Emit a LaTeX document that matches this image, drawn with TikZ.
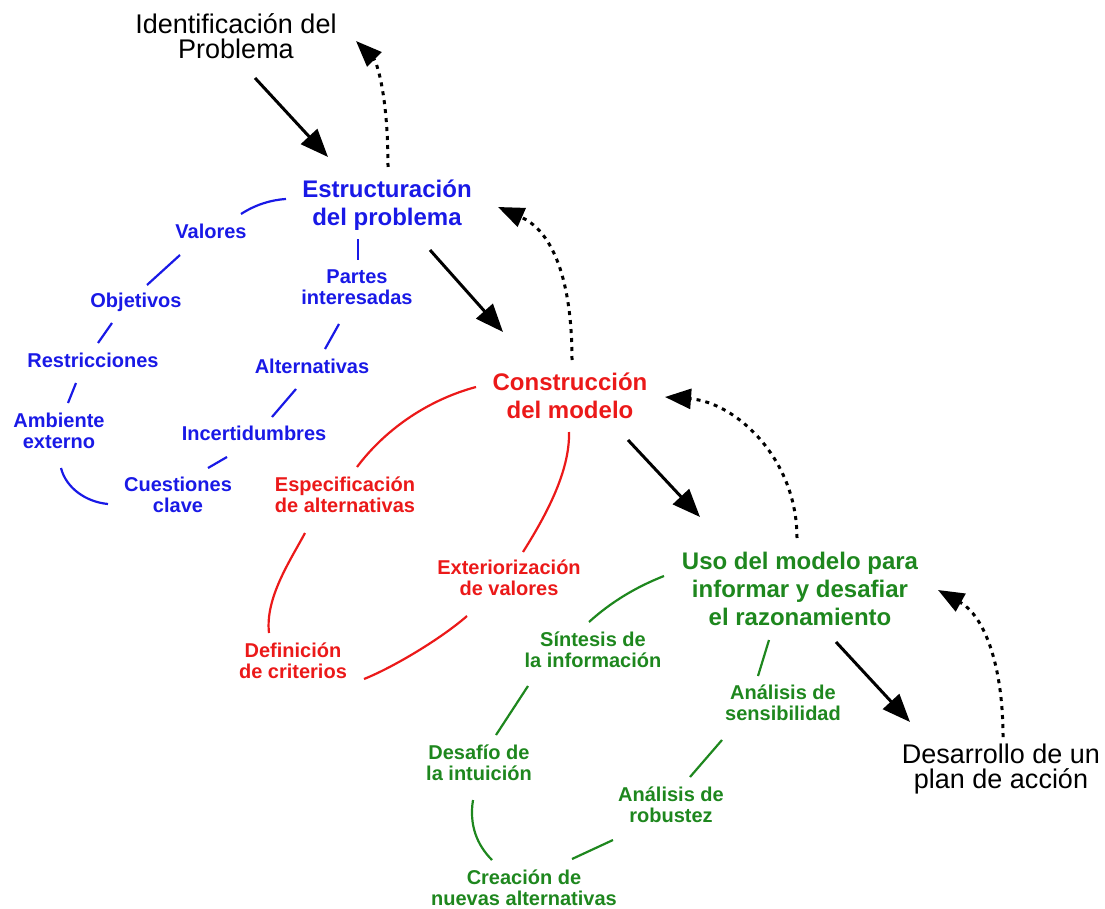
\documentclass[tikz,border=0pt]{standalone}
\usepackage{fontspec}
\setmainfont{Liberation Sans}
\usetikzlibrary{positioning, arrows.meta}
\usetikzlibrary{calc}
\definecolor{estblue}{RGB}{25,25,230}
\definecolor{modred}{RGB}{235,25,25}
\definecolor{usogreen}{RGB}{30,135,30}

\begin{document}
\begin{tikzpicture}[
      x=1pt, y=-1pt,
      stage/.style={align=center, inner sep=2pt, font=\fontsize{27}{25}\selectfont},
      phase/.style={align=center, inner sep=2pt, font=\fontsize{24}{28}\selectfont\bfseries},
      item/.style={align=center, inner sep=2pt, font=\fontsize{20}{21.5}\selectfont\bfseries},
      link/.style={line width=2.2pt},
      fwd/.style={-{Triangle[length=28pt, width=22pt]}, line width=3pt},
      back/.style={-{Triangle[length=26pt, width=20pt]}, line width=3pt, dash pattern=on 4pt off 5pt}
    ]
      \useasboundingbox (0,0) rectangle (1105,909);

      % Nodes
      \node[stage] (ident) at (236,36) {Identificación del\\Problema};
      \node[phase, text=estblue] (estr) at (387,205) {Estructuración\\del problema};
      \node[phase, text=modred] (constr) at (570,396) {Construcción\\del modelo};
      \node[phase, text=usogreen] (uso) at (800,589) {Uso del modelo para\\informar y desafiar\\el razonamiento};
      \node[stage] (desarr) at (1001,769) {Desarrollo de un\\plan de acción};

      \node[item, text=estblue] (valores) at (211,231) {Valores};
      \node[item, text=estblue] (objetivos) at (136,302) {Objetivos};
      \node[item, text=estblue] (restr) at (93,360) {Restricciones};
      \node[item, text=estblue] (ambiente) at (59,431) {Ambiente\\externo};
      \node[item, text=estblue] (cuest) at (178,495) {Cuestiones\\clave};
      \node[item, text=estblue] (incert) at (254,433) {Incertidumbres};
      \node[item, text=estblue] (altern) at (312,366) {Alternativas};
      \node[item, text=estblue] (partes) at (357,287) {Partes\\interesadas};

      \node[item, text=modred] (espec) at (345,495) {Especificación\\de alternativas};
      \node[item, text=modred] (defin) at (293,661) {Definición\\de criterios};
      \node[item, text=modred] (exter) at (509,578) {Exteriorización\\de valores};

      \node[item, text=usogreen] (sintesis) at (593,650) {Síntesis de\\la información};
      \node[item, text=usogreen] (sens) at (783,703) {Análisis de\\sensibilidad};
      \node[item, text=usogreen] (desafio) at (479,763) {Desafío de\\la intuición};
      \node[item, text=usogreen] (robustez) at (671,805) {Análisis de\\robustez};
      \node[item, text=usogreen] (creacion) at (524,888) {Creación de\\nuevas alternativas};

      % Blue cycle
      \draw[link, estblue] ($(estr)+(-101,-6)$) .. controls +(-16,1) and +(14,-9) .. ($(valores)+(30,-17)$);
      \draw[link, estblue] ($(valores)+(-31,24)$) -- ($(objetivos)+(11,-17)$);
      \draw[link, estblue] ($(objetivos)+(-24,21)$) -- ($(restr)+(5,-17)$);
      \draw[link, estblue] ($(restr)+(-17,23)$) -- ($(ambiente)+(9,-28)$);
      \draw[link, estblue] ($(ambiente)+(2,37)$) .. controls +(5,20) and +(-22,-2) .. ($(cuest)+(-70,9)$);
      \draw[link, estblue] ($(cuest)+(30,-27)$) -- ($(incert)+(-27,24)$);
      \draw[link, estblue] ($(incert)+(18,-16)$) -- ($(altern)+(-16,23)$);
      \draw[link, estblue] ($(altern)+(13,-17)$) -- ($(partes)+(-18,37)$);
      \draw[link, estblue] ($(partes)+(1,-27)$) -- ($(estr)+(-29,34)$);

      % Red cycle
      \draw[link, modred] ($(constr)+(-94,-9)$) .. controls +(-45,12) and +(30,-40) .. ($(espec)+(12,-28)$);
      \draw[link, modred] ($(espec)+(-40,38)$) .. controls +(-15,28) and +(-4,-35) .. ($(defin)+(-24,-28)$);
      \draw[link, modred] ($(defin)+(71,18)$) .. controls +(30,-12) and +(-25,22) .. ($(exter)+(-42,38)$);
      \draw[link, modred] ($(exter)+(14,-26)$) .. controls +(22,-35) and +(1,40) .. ($(constr)+(-1,36)$);

      % Green cycle
      \draw[link, usogreen] ($(uso)+(-136,-13)$) .. controls +(-28,11) and +(22,-20) .. ($(sintesis)+(-4,-28)$);
      \draw[link, usogreen] ($(sintesis)+(-65,36)$) -- ($(desafio)+(17,-28)$);
      \draw[link, usogreen] ($(uso)+(-31,51)$) -- ($(sens)+(-25,-27)$);
      \draw[link, usogreen] ($(sens)+(-61,37)$) -- ($(robustez)+(19,-28)$);
      \draw[link, usogreen] ($(desafio)+(-6,37)$) .. controls +(-4,25) and +(-15,-15) .. ($(creacion)+(-32,-28)$);
      \draw[link, usogreen] ($(creacion)+(48,-29)$) -- ($(robustez)+(-58,35)$);

      % Arrows
      \draw[fwd] ($(ident)+(19,42)$) -- ($(estr)+(-59,-48)$);
      \draw[fwd] ($(estr)+(43,45)$) -- ($(constr)+(-67,-64)$);
      \draw[fwd] ($(constr)+(58,44)$) -- ($(uso)+(-100,-72)$);
      \draw[fwd] ($(uso)+(36,53)$) -- ($(desarr)+(-91,-47)$);

      \draw[back] ($(estr)+(1,-38)$) .. controls +(0,-75) and +(20,20) .. ($(ident)+(120,5)$);
      \draw[back] ($(constr)+(2,-36)$) .. controls +(0,-90) and +(50,22) .. ($(estr)+(111,2)$);
      \draw[back] ($(uso)+(-3,-51)$) .. controls +(0,-80) and +(70,5) .. ($(constr)+(95,1)$);
      \draw[back] ($(desarr)+(2,-32)$) .. controls +(0,-75) and +(45,25) .. ($(uso)+(138,1)$);

    \end{tikzpicture}
\end{document}
